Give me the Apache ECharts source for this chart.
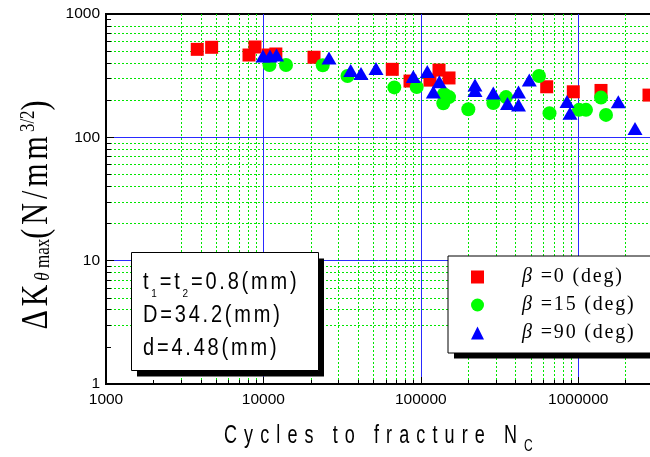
<!DOCTYPE html>
<html><head><meta charset="utf-8">
<script src="https://cdn.jsdelivr.net/npm/echarts@6/dist/echarts.min.js"></script>
<style>html,body{margin:0;padding:0;background:#fff}#c{width:650px;height:457px}</style>
</head><body><div id="c"></div>
<script>
// ---- data ----
const seriesNames = ['β =0 (deg)', 'β =15 (deg)', 'β =90 (deg)'];
const beta0 = [[3800,517],[4690,537],[8100,465],[8840,540],[10700,465],[12000,474],[20970,446],[65900,356],[85400,286],[114400,291],[130500,351],[151100,303],[630800,257],[930900,234],[1396000,240],[2817000,220]];
const beta15 = [[10930,386],[13920,386],[23820,384],[34220,314],[67870,254],[94190,256],[140400,224],[151100,212],[139000,189],[200400,169],[288800,190],[347800,212],[563600,314],[657200,157],[1012000,167],[1121000,167],[1396000,210],[1502000,152]];
const beta90 = [[9940,456],[11010,456],[12110,465],[26110,440],[35850,348],[41700,329],[51930,361],[89600,311],[110000,342],[131100,282],[120100,233],[221000,266],[221000,240],[288800,229],[355400,188],[417600,233],[417600,183],[489000,291],[848900,195],[887100,157],[1798000,194],[2296000,118]];
const xRange = [1000, 10000000];
const yRange = [1, 1000];
const xMinorTicks = [2000,3000,4000,5000,6000,7000,8000,9000,20000,30000,40000,50000,60000,70000,80000,90000,200000,300000,400000,500000,600000,700000,800000,900000,2000000,3000000,4000000,5000000,6000000,7000000,8000000,9000000];
const yMinorTicks = [2,3,4,5,6,7,8,9,20,30,40,50,60,70,80,90,200,300,400,500,600,700,800,900];
const xTitleMain = 'Cycles to fracture N';
const xTitleSub = 'C';
const yTitleParts = ['ΔK', 'θ', ' max', '(N/mm', '3/2', ')'];
const noteLine1 = [['t','n'],['1','s'],['=t','n'],['2','s'],['=0.8(mm)','n']];
const noteLine2 = 'D=34.2(mm)';
const noteLine3 = 'd=4.48(mm)';

function sp(str, cls) { return Array.from(str).map(c => '{' + cls + '|' + c + '}').join(''); }

const SANS = 'Liberation Sans, Arial, sans-serif';
const SERIF = 'Liberation Serif, Times New Roman, serif';

const chart = echarts.init(document.getElementById('c'), null, {renderer: 'canvas'});

const majorSplitX = {show: true, showMinLine: false, showMaxLine: false, lineStyle: {color: '#2a2aff', width: 1}};
const majorSplitY = {show: true, showMinLine: false, showMaxLine: false, lineStyle: {color: '#2a2aff', width: 1}};
const minorSplitX = {show: true, showMinLine: false, showMaxLine: false, lineStyle: {color: '#00e600', width: 1, type: [2, 2]}};
const minorSplitY = {show: true, showMinLine: false, showMaxLine: false, lineStyle: {color: '#00e600', width: 1, type: [2, 2]}};

const option = {
  animation: false,
  backgroundColor: '#fff',
  grid: {left: 106, top: 14, right: -85.6, bottom: 73, show: true, borderColor: '#000', borderWidth: 2,
         backgroundColor: 'transparent', containLabel: false, outerBoundsMode: 'none'},
  xAxis: [
    {type: 'log', logBase: 10, min: xRange[0], max: xRange[1], position: 'bottom', gridIndex: 0,
     axisLine: {show: true, onZero: false, lineStyle: {color: '#000', width: 2}},
     axisTick: {show: true, inside: true, length: 7, lineStyle: {color: '#000', width: 1}},
     axisLabel: {show: true, color: '#000', fontSize: 15.5, fontFamily: SANS, margin: 8,
                 formatter: v => String(Math.round(v))},
     splitLine: majorSplitX, z: 3},
    {type: 'log', logBase: 10, min: xRange[0], max: xRange[1], position: 'bottom', gridIndex: 0,
     axisLine: {show: false, onZero: false},
     axisTick: {show: true, inside: true, length: 4, customValues: xMinorTicks, lineStyle: {color: '#000', width: 1}},
     axisLabel: {show: false},
     splitLine: minorSplitX, z: 1}
  ],
  yAxis: [
    {type: 'log', logBase: 10, min: yRange[0], max: yRange[1], position: 'left', gridIndex: 0,
     axisLine: {show: true, onZero: false, lineStyle: {color: '#000', width: 2}},
     axisTick: {show: true, inside: true, length: 8, lineStyle: {color: '#000', width: 1}},
     axisLabel: {show: true, color: '#000', fontSize: 15.5, fontFamily: SANS, margin: 6,
                 formatter: v => String(Math.round(v))},
     splitLine: majorSplitY, z: 3},
    {type: 'log', logBase: 10, min: yRange[0], max: yRange[1], position: 'left', gridIndex: 0,
     axisLine: {show: false, onZero: false},
     axisTick: {show: true, inside: true, length: 5, customValues: yMinorTicks, lineStyle: {color: '#000', width: 1}},
     axisLabel: {show: false},
     splitLine: minorSplitY, z: 1}
  ],
  legend: {
    show: true, orient: 'vertical', left: 448, top: 256, z: 20,
    padding: [7, 80, 6, 23], itemGap: 0, itemWidth: 13, itemHeight: 13,
    backgroundColor: '#fff', borderColor: '#000', borderWidth: 1, borderRadius: 0,
    data: seriesNames,
    formatter: name => '{i|' + name[0] + '}' + sp(name.slice(1), 'r'),
    textStyle: {
      color: '#000', fontFamily: SERIF, fontSize: 20, lineHeight: 28,
      rich: {
        i: {color: '#000', fontFamily: SERIF, fontSize: 20, fontStyle: 'italic', lineHeight: 28, padding: [0, 2, 0, 33]},
        r: {color: '#000', fontFamily: SERIF, fontSize: 20, lineHeight: 28, padding: [0, 1.8, 0, 0]}
      }
    }
  },
  series: [
    {name: seriesNames[0], type: 'scatter', data: beta0, symbol: 'rect', symbolSize: 13,
     itemStyle: {color: '#ff0000', opacity: 1}, xAxisIndex: 0, yAxisIndex: 0, z: 5},
    {name: seriesNames[1], type: 'scatter', data: beta15, symbol: 'circle', symbolSize: 14,
     itemStyle: {color: '#00ff00', opacity: 1}, xAxisIndex: 0, yAxisIndex: 0, z: 5},
    {name: seriesNames[2], type: 'scatter', data: beta90, symbol: 'triangle', symbolSize: [15, 13],
     itemStyle: {color: '#0000ff', opacity: 1}, xAxisIndex: 0, yAxisIndex: 0, z: 5}
  ],
  graphic: [
    // legend shadow
    {type: 'rect', z: 19, shape: {x: 454, y: 262, width: 260, height: 96.5}, style: {fill: '#000'}},
    // note box shadow + box
    {type: 'rect', z: 19, shape: {x: 137, y: 258.5, width: 187, height: 118}, style: {fill: '#000'}},
    {type: 'rect', z: 20, shape: {x: 131.5, y: 252.5, width: 187, height: 118}, style: {fill: '#fff', stroke: '#000', lineWidth: 1}},
    {type: 'text', z: 21, x: 143, y: 283, scaleY: 1.15,
     style: {text: noteLine1.map(p => sp(p[0], p[1])).join(''), align: 'left', verticalAlign: 'middle',
             fill: '#000', fontFamily: SANS, fontSize: 20,
             rich: {n: {fontFamily: SANS, fontSize: 20, fill: '#000', lineHeight: 24, verticalAlign: 'middle', padding: [0, 2.8, 0, 0]},
                    s: {fontFamily: SANS, fontSize: 10, fill: '#000', lineHeight: 12, verticalAlign: 'middle', padding: [19, 2.8, 0, 0]}}}},
    {type: 'text', z: 21, x: 143, y: 316, scaleY: 1.15,
     style: {text: sp(noteLine2, 'n'), align: 'left', verticalAlign: 'middle', fill: '#000', fontFamily: SANS, fontSize: 20,
             rich: {n: {fontFamily: SANS, fontSize: 20, fill: '#000', lineHeight: 24, verticalAlign: 'middle', padding: [0, 2.8, 0, 0]}}}},
    {type: 'text', z: 21, x: 143, y: 349, scaleY: 1.15,
     style: {text: sp(noteLine3, 'n'), align: 'left', verticalAlign: 'middle', fill: '#000', fontFamily: SANS, fontSize: 20,
             rich: {n: {fontFamily: SANS, fontSize: 20, fill: '#000', lineHeight: 24, verticalAlign: 'middle', padding: [0, 2.8, 0, 0]}}}},
    // x axis title
    {type: 'text', z: 21, x: 224, y: 436, scaleY: 1.45,
     style: {text: sp(xTitleMain, 'a') + '{c|' + xTitleSub + '}', align: 'left', verticalAlign: 'middle',
             fill: '#000', fontFamily: SANS, fontSize: 18,
             rich: {a: {fontFamily: SANS, fontSize: 18, fill: '#000', lineHeight: 22, verticalAlign: 'middle', padding: [0, 7.1, 0, 0]},
                    c: {fontFamily: SANS, fontSize: 12, fill: '#000', lineHeight: 14, verticalAlign: 'middle', padding: [14, 0, 0, 0]}}}},
    // y axis title
    {type: 'text', z: 21, x: 37, y: 213, rotation: Math.PI / 2, scaleY: 1.25,
     style: {text: sp(yTitleParts[0], 'b') + '{si|' + yTitleParts[1] + '}' + sp(yTitleParts[2], 's') +
                   sp(yTitleParts[3], 'b') + sp(yTitleParts[4], 'p') + sp(yTitleParts[5], 'b'),
             align: 'center', verticalAlign: 'middle', fill: '#000', fontFamily: SERIF, fontSize: 30,
             rich: {b: {fontFamily: SERIF, fontSize: 30, fill: '#000', lineHeight: 34, verticalAlign: 'middle', padding: [0, 4, 0, 0]},
                    si: {fontFamily: SERIF, fontSize: 17, fontStyle: 'italic', fill: '#000', lineHeight: 20, verticalAlign: 'middle', padding: [10, 0, 0, 0]},
                    s: {fontFamily: SERIF, fontSize: 17, fill: '#000', lineHeight: 20, verticalAlign: 'middle', padding: [10, 0, 0, 0]},
                    p: {fontFamily: SERIF, fontSize: 17, fill: '#000', lineHeight: 20, verticalAlign: 'middle', padding: [0, 0, 14, 0]}}}}
  ]
};
chart.setOption(option);
</script></body></html>
